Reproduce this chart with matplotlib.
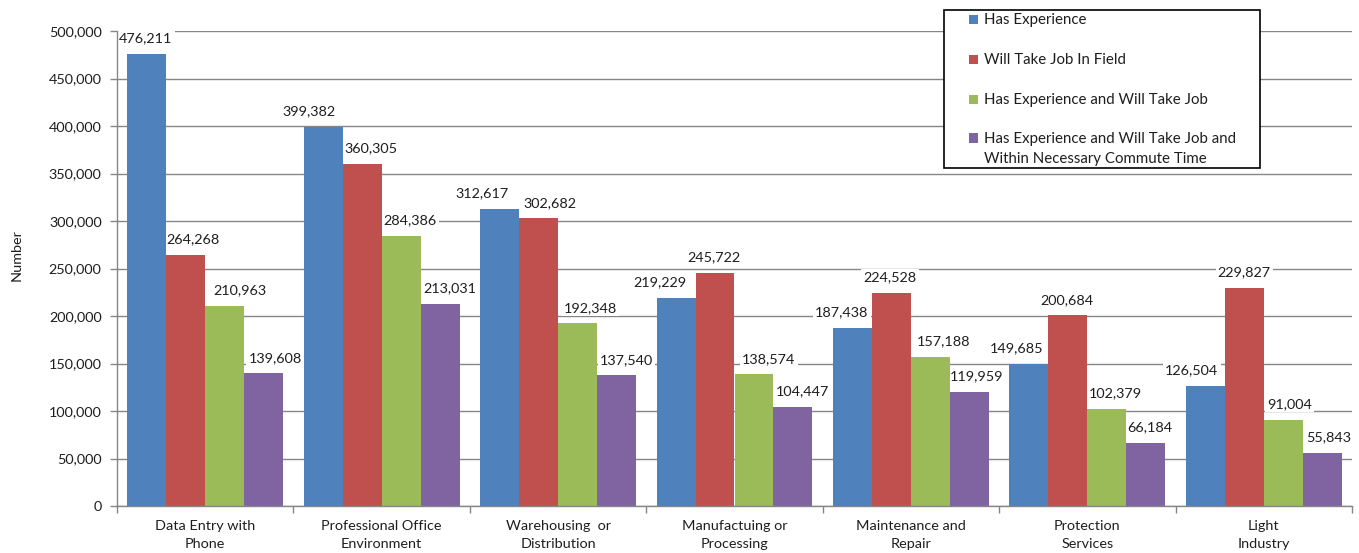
import matplotlib
matplotlib.use("Agg")
import matplotlib.pyplot as plt
from matplotlib.patches import Rectangle
from matplotlib.ticker import FuncFormatter, MultipleLocator
import numpy as np

plt.rcParams['font.family'] = ['Lato', 'DejaVu Sans']

categories = [
    "Data Entry with\nPhone",
    "Professional Office\nEnvironment",
    "Warehousing  or\nDistribution",
    "Manufactuing or\nProcessing",
    "Maintenance and\nRepair",
    "Protection\nServices",
    "Light\nIndustry",
]
series_names = [
    "Has Experience",
    "Will Take Job In Field",
    "Has Experience and Will Take Job",
    "Has Experience and Will Take Job and\nWithin Necessary Commute Time",
]
has_experience = [476211, 399382, 312617, 219229, 187438, 149685, 126504]
will_take_job = [264268, 360305, 302682, 245722, 224528, 200684, 229827]
experience_and_take = [210963, 284386, 192348, 138574, 157188, 102379, 91004]
within_commute = [139608, 213031, 137540, 104447, 119959, 66184, 55843]

series_values = [has_experience, will_take_job, experience_and_take, within_commute]
colors = ["#4F81BD", "#C0504D", "#9BBB59", "#8064A2"]

# horizontal nudges (pixels) applied to the value labels of each series
label_nudge = [
    [-1, -14.5, -17.5, -16, -10.5, -12, -13.5],
    [7.5, 8.5, 11, -1, -1.5, -1, 0],
    [15.5, 9, 12.5, 15, 13.5, 8.5, 6.5],
    [11.5, 9.5, 10, 10, 7.5, 4, 6.5],
]

W, H = 1359, 553
fig = plt.figure(figsize=(W / 100, H / 100), dpi=100)
ax = fig.add_axes([117 / W, 1 - 506 / H, (1352 - 117) / W, (506 - 31) / H])

x = np.arange(len(categories))
bw = 0.221
grid_color = "#868686"
text_color = "#1e1e1e"
fs = 10.4

for i, (vals, col) in enumerate(zip(series_values, colors)):
    pos = x + (i - 1.5) * bw
    bars = ax.bar(pos, vals, width=bw, color=col, zorder=2)
    for j, (b, v) in enumerate(zip(bars, vals)):
        ax.annotate(f"{v:,}", (b.get_x() + b.get_width() / 2, v),
                    xytext=(label_nudge[i][j] * 0.72, 15.5 * 0.72),
                    textcoords="offset points",
                    ha="center", va="center", fontsize=fs, color=text_color,
                    bbox=dict(boxstyle="square,pad=0.15", fc="white", ec="none"),
                    zorder=1.5)

ax.set_xlim(-0.5, len(categories) - 0.5)
ax.set_ylim(0, 500000)
ax.yaxis.set_major_locator(MultipleLocator(50000))
ax.yaxis.set_major_formatter(FuncFormatter(lambda v, p: f"{int(v):,}"))
ax.grid(axis="y", color=grid_color, linewidth=1, zorder=0)
ax.set_axisbelow(True)

ax.set_xticks(x)
ax.set_xticklabels(categories, fontsize=fs, color=text_color, linespacing=1.65)
ax.set_xticks(np.arange(len(categories) + 1) - 0.5, minor=True)
ax.tick_params(axis="x", which="major", length=0, pad=10)
ax.tick_params(axis="x", which="minor", length=5, color=grid_color, width=1)
ax.tick_params(axis="y", length=5, color=grid_color, width=1, labelsize=fs,
               labelcolor=text_color, pad=6)

for s in ["top", "right"]:
    ax.spines[s].set_visible(False)
for s in ["left", "bottom"]:
    ax.spines[s].set_color(grid_color)
    ax.spines[s].set_linewidth(1)

fig.text(17 / W, 1 - 255 / H, "Number", rotation=90, ha="center", va="center",
         fontsize=fs, color=text_color)

# legend box drawn in figure pixels
def fx(px):
    return px / W

def fy(py):
    return 1 - py / H

fig.patches.append(Rectangle((fx(944), fy(168)), fx(1260) - fx(944), fy(10) - fy(168),
                             transform=fig.transFigure, facecolor="white",
                             edgecolor="black", linewidth=1.2, zorder=5))
row_y = [19, 59, 99, 138]
for name, col, ry in zip(series_names, colors, row_y):
    fig.patches.append(Rectangle((fx(969), fy(ry + 4.5)), fx(978) - fx(969), fy(ry - 4.5) - fy(ry + 4.5),
                                 transform=fig.transFigure, facecolor=col,
                                 edgecolor="none", zorder=6))
    fig.text(fx(984), fy(ry - 6), name, ha="left", va="top", fontsize=10.8,
             color=text_color, zorder=7, linespacing=1.5)

fig.savefig("out.png", dpi=100, facecolor="white")
